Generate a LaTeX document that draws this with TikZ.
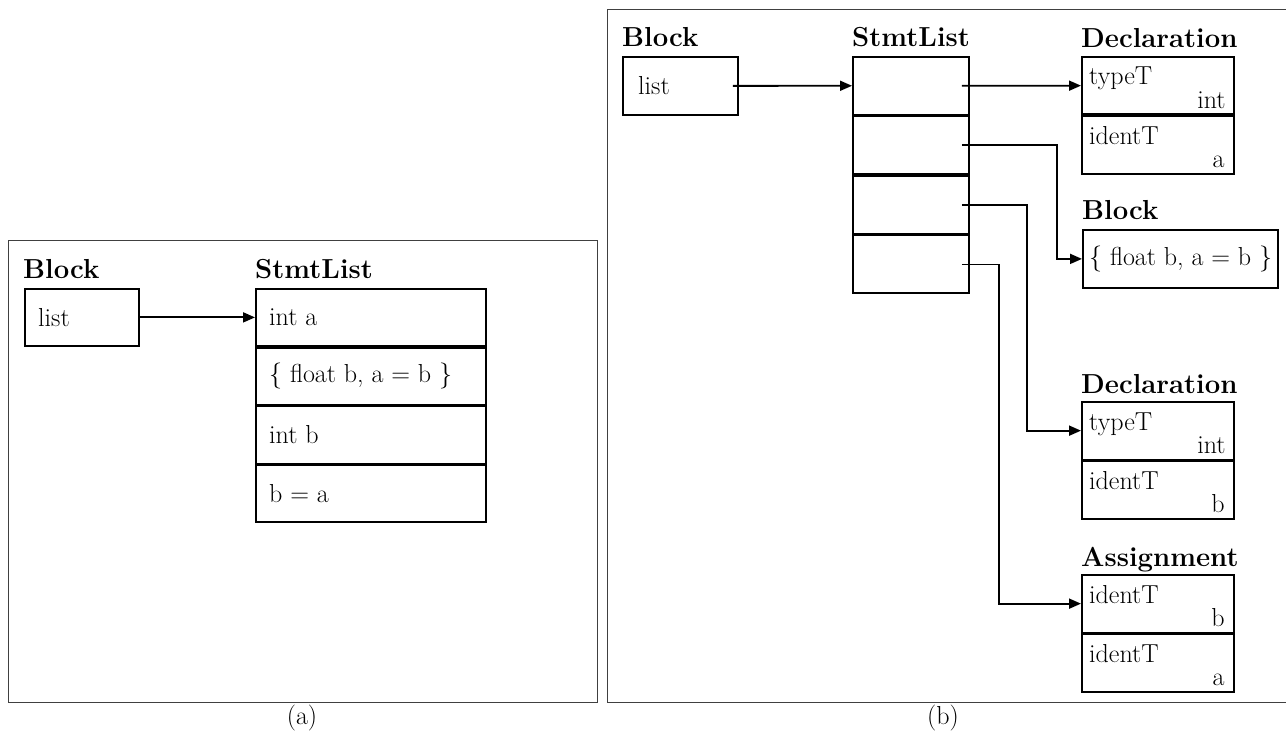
\documentclass[tikz,border=0pt]{standalone}
\usetikzlibrary{arrows.meta}
\begin{document}
\begin{tikzpicture}[x=1pt,y=-1pt,
  every node/.style={font=\fontsize{26}{30}\selectfont},
  box/.style={draw,line width=1.8pt,rectangle,inner sep=0pt,anchor=north west},
  title/.style={font=\fontsize{27.5}{32}\selectfont\bfseries,anchor=base west,inner sep=0pt},
  fl/.style={anchor=base west,inner sep=0pt},
  fr/.style={anchor=base east,inner sep=0pt},
  txt/.style={anchor=west,inner sep=0pt},
  arr/.style={line width=1.8pt,-{Triangle[length=12pt,width=10pt]}},
  frame/.style={draw=black!75,line width=1pt}]
\useasboundingbox (0,0) rectangle (1286,738);
\clip (0,0) rectangle (1286,738);

% ---------- (a) ----------
\draw[frame] (8,241) rectangle (597,702);
\node[box,minimum width=114,minimum height=57] (ablk) at (24,288) {};
\node[title] (ablkT) at ([shift={(-1,-9)}]ablk.north west) {Block};
\node[txt] (alist) at ([xshift=14]ablk.west) {list};

\node[box,minimum width=230,minimum height=57] (a1) at (255,288) {};
\node[box,minimum width=230,minimum height=57] (a2) at (a1.south west) {};
\node[box,minimum width=230,minimum height=57] (a3) at (a2.south west) {};
\node[box,minimum width=230,minimum height=57] (a4) at (a3.south west) {};
\node[title] (aslT) at ([shift={(0,-9)}]a1.north west) {StmtList};
\node[txt] (a1t) at ([xshift=14]a1.west) {int a};
\node[txt] (a2t) at ([xshift=14]a2.west) {\{ float b, a = b \}};
\node[txt] (a3t) at ([xshift=14]a3.west) {int b};
\node[txt] (a4t) at ([xshift=14]a4.west) {b = a};
\draw[arr] (ablk.east) -- (a1.west);
\node (capa) at (302,718) {(a)};

% ---------- (b) ----------
\draw[frame] (1295,10) -- (607,10) -- (607,702) -- (1295,702);
\node[box,minimum width=115,minimum height=58] (bblk) at (622,56) {};
\node[title] (bblkT) at ([shift={(0,-9)}]bblk.north west) {Block};
\node[txt] (blist) at ([xshift=16]bblk.west) {list};

\node[box,minimum width=116,minimum height=57.75] (s1) at (852,56) {};
\node[box,minimum width=116,minimum height=57.75] (s2) at (s1.south west) {};
\node[box,minimum width=116,minimum height=57.75] (s3) at (s2.south west) {};
\node[box,minimum width=116,minimum height=57.75] (s4) at (s3.south west) {};
\node[title] (bslT) at ([shift={(0,-9)}]s1.north west) {StmtList};

% Declaration int a
\node[box,minimum width=152,minimum height=57.5] (d1a) at (1081,56) {};
\node[box,minimum width=152,minimum height=57.5] (d1b) at (d1a.south west) {};
\node[title] (d1T) at ([shift={(0,-8)}]d1a.north west) {Declaration};
\node[fl] (d1aL) at ([shift={(8,29)}]d1a.north west) {typeT};
\node[fr] (d1aR) at ([shift={(-9,-7)}]d1a.south east) {int};
\node[fl] (d1bL) at ([shift={(8,29)}]d1b.north west) {identT};
\node[fr] (d1bR) at ([shift={(-10,-7)}]d1b.south east) {a};

% nested Block
\node[box,minimum width=195,minimum height=58] (blk2) at (1082,229) {};
\node[title] (blk2T) at ([shift={(0,-9)}]blk2.north west) {Block};
\node[txt] (blk2t) at ([xshift=7]blk2.west) {\{ float b, a = b \}};

% Declaration int b
\node[box,minimum width=152,minimum height=57.5] (d2a) at (1081,401) {};
\node[box,minimum width=152,minimum height=57.5] (d2b) at (d2a.south west) {};
\node[title] (d2T) at ([shift={(0,-8)}]d2a.north west) {Declaration};
\node[fl] (d2aL) at ([shift={(8,29)}]d2a.north west) {typeT};
\node[fr] (d2aR) at ([shift={(-9,-7)}]d2a.south east) {int};
\node[fl] (d2bL) at ([shift={(8,29)}]d2b.north west) {identT};
\node[fr] (d2bR) at ([shift={(-10,-7)}]d2b.south east) {b};

% Assignment b = a
\node[box,minimum width=152,minimum height=57.5] (as1) at (1081,574) {};
\node[box,minimum width=152,minimum height=57.5] (as2) at (as1.south west) {};
\node[title] (asT) at ([shift={(0,-8)}]as1.north west) {Assignment};
\node[fl] (as1L) at ([shift={(8,29)}]as1.north west) {identT};
\node[fr] (as1R) at ([shift={(-10,-7)}]as1.south east) {b};
\node[fl] (as2L) at ([shift={(8,29)}]as2.north west) {identT};
\node[fr] (as2R) at ([shift={(-10,-7)}]as2.south east) {a};

% pointers
\draw[arr] ([xshift=-6]bblk.east) -- (s1.west);
\draw[arr] ([xshift=-8]s1.east) -- (d1a.west);
\draw[arr] ([xshift=-8]s2.east) -- ++(95,0) |- (blk2.west);
\draw[arr] ([xshift=-8]s3.east) -- ++(65,0) |- (d2a.west);
\draw[arr] ([xshift=-8]s4.east) -- ++(37,0) |- (as1.west);
\node (capb) at (943,718) {(b)};
\end{tikzpicture}
\end{document}
